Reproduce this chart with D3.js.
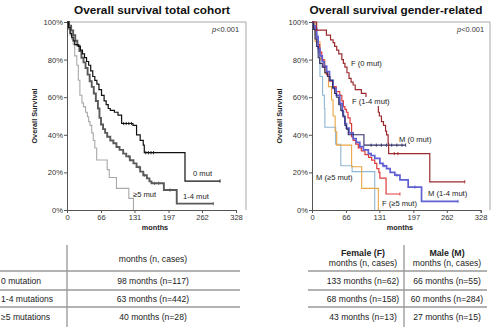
<!DOCTYPE html>
<html><head><meta charset="utf-8">
<script src="https://cdn.jsdelivr.net/npm/d3@7"></script>
<style>
body{margin:0;background:#fff;}
svg{display:block;font-family:"Liberation Sans",Arial,Helvetica,sans-serif;}
</style></head>
<body><svg id="c" width="491" height="327"></svg>
<script>
// ---------- DATA ----------
const xTicks = [0, 66, 131, 197, 262, 328];
const yTicks = [0, 0.2, 0.4, 0.6, 0.8, 1];

// Left panel: total cohort (time in months, survival %)
const mut0T = [0,3,6,9,12,15,22,26,30,34,38,42,46,50,54,58,62,67,72,76,80,84,92,99,106,128,135,142,148,150,229,297];
const mut0S = [100,97,94,92,90,88,87,85,83,81,79,77,74,71,69,67,64,61,58,56,54,53,52,50.5,46,45,40,37,34.5,30.5,15.4,15.4];
const mut0C = [110,115,120,125,153,158,163,168,297];

const mut14T = [0,4,8,12,16,20,24,28,32,36,40,44,48,52,56,60,63,66,70,74,78,84,90,96,102,109,115,122,129,135,142,148,155,160,164,188,213,284];
const mut14S = [100,98,95.5,93,90,87.5,84.5,81,78.5,75.5,72,68.5,65.5,62,58,54,49,45.5,43,41,39,37,35.5,33.5,32,30,28.5,26.5,24.8,22.8,20.4,18.5,16.8,15.2,14.2,10.6,3.4,3.4];
const mut14C = [120,140,150,170,178,200,284];

const mut5T = [0,3,6,9,12,15,19,22,25,29,32,36,39.5,42,44.6,48,51,54,57.6,78,82,96,120,129];
const mut5S = [100,96,93,91,88,82,77,69,61,57,55,52,49.6,47,45,41,37,33,26.6,21.5,17.3,11.5,6.2,0];

// Right panel: gender-related
const f0T = [0,9,28,36,41,44,48,52,58,61,64,68,72,76,80,84,96,105,118,129,131,135,139,143,145,148,149,229,297];
const f0S = [100,95.7,93,90.5,89,87,85,83,80,78,76,73,70,68,66.5,64,62,58,56,52,50,47,45,42,40,35.5,30,15,15];
const f0C = [160,167,297];

const f14T = [0,3,6,9,12,15,19,23,28,34,41,47,54,58,61,64,67,70,74,77,80,85,90,96,103,110,116,122,126,130,132,144,171];
const f14S = [100,97,95.7,92,88,84,80,76,72,68.5,65.6,63,61,58,55,53.5,52,49,46,39,37,35,33,31.5,29.5,28,26.5,24.8,22,20,17,8.5,8.5];
const f14C = [171];

const f5T = [0,6,15.5,25,32,38,41,45,48,77,96.6,129];
const f5S = [100,89.5,80,72.7,65.6,58.5,50,41.6,34.5,23,11.5,0];

const m0T = [0,3,6,9,12,15,20,25,30,35,40,44,48,52,56,60,64,67,70.5,101,182];
const m0S = [100,96,91,87,81,78,76,73,71,69,65,62,60,56,53,50,45,43,40,34.5,34.5];
const m0C = [115,125,135,145,155,165,175,182];

const m14T = [0,3,6,9,12,15.5,20,24,28.5,34,41,47,54,59,61,64,67,72,80,86,93,100,109.5,115,122,132,138,145,152,161,171,187,213,284];
const m14S = [100,98,96.6,92,86,82,79,76.5,73.6,69,64.7,61,56.7,52.5,49.6,46,43.5,41,38,36,33.7,32,30,29,27.5,24.8,23.5,22,20,18.5,16,12.2,4.6,4.6];
const m14C = [140,165,200,284];

const m5T = [0,6,12,15.5,20.6,24,25,46,56,78,122];
const m5S = [100,93,84,71,61,54,44,35,23.5,20.4,0];

// Tables
const leftRowLabels = ["0 mutation", "1-4 mutations", "\u22655 mutations"];
const leftRowValues = ["98 months (n=117)", "63 months (n=442)", "40 months (n=28)"];
const femaleValues = ["133 months (n=62)", "68 months (n=158)", "43 months (n=13)"];
const maleValues = ["66 months (n=55)", "60 months (n=284)", "27 months (n=15)"];

// ---------- DRAW ----------
const svg = d3.select("#c");
const FONT = '"Liberation Sans",Arial,Helvetica,sans-serif';

function panel(opt){
  const x = d3.scaleLinear().domain([0,328]).range([opt.x0, opt.x1]);
  const y = d3.scaleLinear().domain([0,1]).range([210,22]);
  const g = svg.append("g");
  g.append("path").attr("d", `M${opt.x0},22H${opt.boxR}V210`).attr("fill","none").attr("stroke","#a8a8a8").attr("stroke-width",1);
  g.append("text").attr("x", opt.tx).attr("y", 14).attr("text-anchor","middle")
    .attr("font-size", 11.8).attr("font-weight","bold").attr("fill","#111").text(opt.title);
  const ya = g.append("g").attr("transform",`translate(${opt.x0},0)`)
    .call(d3.axisLeft(y).tickValues(yTicks).tickFormat(d3.format(".0%")).tickSize(3).tickPadding(1));
  const xa = g.append("g").attr("transform","translate(0,210)")
    .call(d3.axisBottom(x).tickValues(xTicks).tickFormat(d3.format("d")).tickSize(3).tickPadding(2));
  [ya,xa].forEach(a=>{
    a.selectAll("path,line").attr("stroke","#555");
    a.selectAll("text").attr("font-size",7.6).attr("font-family",FONT).attr("fill","#333");
  });
  g.append("text").attr("transform",`translate(${opt.yl},116) rotate(-90)`).attr("text-anchor","middle")
    .attr("font-size",7.3).attr("font-weight","bold").attr("fill","#222").text("Overall Survival");
  g.append("text").attr("x", opt.xl).attr("y", 230).attr("text-anchor","middle")
    .attr("font-size",7.3).attr("font-weight","bold").attr("fill","#222").text("months");
  const pt = g.append("text").attr("x", opt.pR).attr("y", 32).attr("text-anchor","end")
    .attr("font-size",7.4).attr("fill","#333");
  pt.append("tspan").attr("font-style","italic").text("p");
  pt.append("tspan").text("<0.001");

  const line = d3.line().curve(d3.curveStepAfter).x(d=>x(d[0])).y(d=>y(d[1]/100));
  opt.curves.forEach(c=>{
    const pts = c.t.map((t,i)=>[t,c.s[i]]);
    g.append("path").datum(pts).attr("d",line).attr("fill","none")
      .attr("stroke",c.color).attr("stroke-width",c.w||1.1);
    if (c.c){
      const interp = t => { let s=c.s[0]; for(let i=0;i<c.t.length;i++){ if(c.t[i]<=t) s=c.s[i]; } return s; };
      g.selectAll(null).data(c.c).enter().append("line")
        .attr("x1",d=>x(d)).attr("x2",d=>x(d))
        .attr("y1",d=>y(interp(d)/100)-1.6).attr("y2",d=>y(interp(d)/100)+1.6)
        .attr("stroke",c.color).attr("stroke-width",0.9);
    }
  });
  opt.labels.forEach(l=>{
    if (l.bg){
      g.append("rect").attr("x",l.x-1).attr("y",l.y-7).attr("width",l.w).attr("height",9).attr("fill","#fff");
    }
    g.append("text").attr("x",l.x).attr("y",l.y).attr("font-size",7.6).attr("fill","#222").text(l.text);
  });
}

panel({
  x0:67, x1:236, boxR:246, tx:152, yl:37, xl:155, pR:239,
  title:"Overall survival total cohort",
  curves:[
    {t:mut5T, s:mut5S, color:"#a9a9a9", w:1.1},
    {t:mut14T, s:mut14S, color:"#5a5a5a", w:1.9, c:mut14C},
    {t:mut0T, s:mut0S, color:"#111", w:1.2, c:mut0C}
  ],
  labels:[
    {x:193, y:176, text:"0 mut"},
    {x:183, y:199, text:"1-4 mut"},
    {x:133, y:197, text:"\u22655 mut"}
  ]
});

panel({
  x0:312, x1:480.7, boxR:490, tx:396, yl:282, xl:400, pR:484,
  title:"Overall survival gender-related",
  curves:[
    {t:m5T, s:m5S, color:"#8db6d6", w:1.1},
    {t:f5T, s:f5S, color:"#e9a543", w:1.1},
    {t:f14T, s:f14S, color:"#dd3a3a", w:1.2, c:f14C},
    {t:m14T, s:m14S, color:"#5f5fd4", w:1.7, c:m14C},
    {t:m0T, s:m0S, color:"#2e2e66", w:1.1, c:m0C},
    {t:f0T, s:f0S, color:"#9b2b2e", w:1.2, c:f0C}
  ],
  labels:[
    {x:351, y:66, text:"F (0 mut)"},
    {x:352, y:104, text:"F (1-4 mut)", bg:true, w:39},
    {x:399, y:142, text:"M (0 mut)"},
    {x:316, y:180, text:"M (\u22655 mut)"},
    {x:428, y:196, text:"M (1-4 mut)"},
    {x:382, y:206, text:"F (\u22655 mut)"}
  ]
});

// ---------- TABLES ----------
const rowY = [281, 299, 317];
const lineY = [271, 290, 307];
const tg = svg.append("g").attr("font-size",8.6).attr("fill","#222");
tg.append("line").attr("x1",67).attr("x2",67).attr("y1",245).attr("y2",327).attr("stroke","#777").attr("stroke-width",1);
lineY.forEach(v=>tg.append("line").attr("x1",0).attr("x2",240).attr("y1",v).attr("y2",v).attr("stroke","#999").attr("stroke-width",1.3));
tg.append("text").attr("x",153).attr("y",262).attr("text-anchor","middle").text("months (n, cases)");
leftRowLabels.forEach((t,i)=>tg.append("text").attr("x",1).attr("y",rowY[i]+3).text(t));
leftRowValues.forEach((t,i)=>tg.append("text").attr("x",153).attr("y",rowY[i]+3).attr("text-anchor","middle").text(t));
tg.append("line").attr("x1",404).attr("x2",404).attr("y1",245).attr("y2",327).attr("stroke","#777").attr("stroke-width",1);
lineY.forEach(v=>tg.append("line").attr("x1",308).attr("x2",487).attr("y1",v).attr("y2",v).attr("stroke","#999").attr("stroke-width",1.3));
tg.append("text").attr("x",363).attr("y",256).attr("text-anchor","middle").attr("font-weight","bold").attr("font-size",8.8).text("Female (F)");
tg.append("text").attr("x",363).attr("y",266).attr("text-anchor","middle").text("months (n, cases)");
tg.append("text").attr("x",447).attr("y",256).attr("text-anchor","middle").attr("font-weight","bold").attr("font-size",8.8).text("Male (M)");
tg.append("text").attr("x",447).attr("y",266).attr("text-anchor","middle").text("months (n, cases)");
femaleValues.forEach((t,i)=>tg.append("text").attr("x",363).attr("y",rowY[i]+3).attr("text-anchor","middle").text(t));
maleValues.forEach((t,i)=>tg.append("text").attr("x",447).attr("y",rowY[i]+3).attr("text-anchor","middle").text(t));
</script></body></html>
